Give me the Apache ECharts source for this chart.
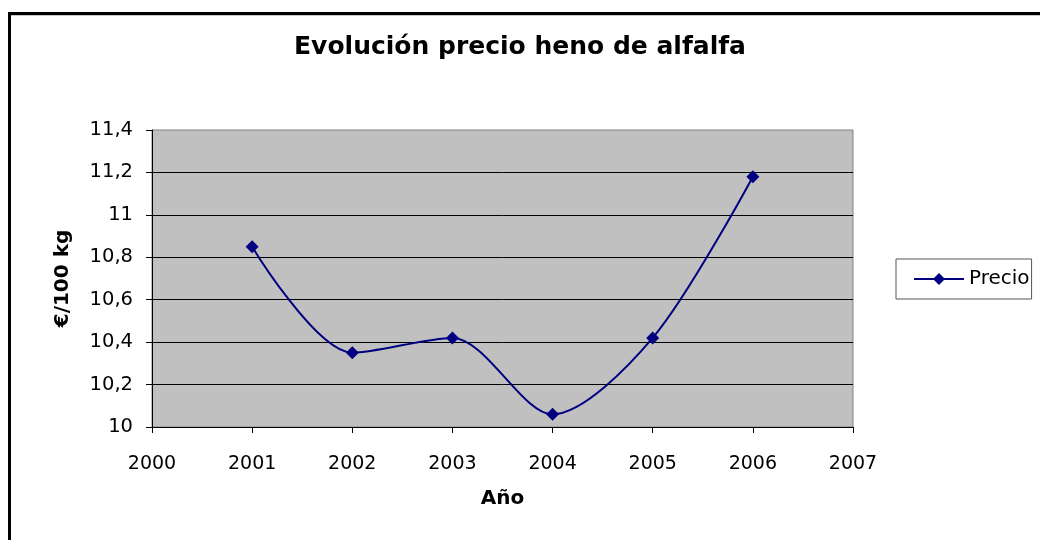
<!DOCTYPE html>
<html>
<head>
<meta charset="utf-8">
<script src="https://cdn.jsdelivr.net/npm/echarts@6/dist/echarts.min.js"></script>
<style>
  html, body { margin: 0; padding: 0; background: #fff; }
  #chart { position: absolute; left: 0; top: 0; width: 1040px; height: 540px; }
  #frame {
    position: absolute; left: 8px; top: 12px; right: 0; bottom: 0;
    border-left: 3px solid #000; border-top: 3px solid #000;
    box-shadow: inset 0 1px 0 #c8c8c8;
    pointer-events: none;
  }
</style>
</head>
<body>
<div id="chart"></div>
<div id="frame"></div>
<script>
const years = [2001, 2002, 2003, 2004, 2005, 2006];
const precio = [10.85, 10.35, 10.42, 10.06, 10.42, 11.18];
const xRange = [2000, 2007];
const yRange = [10, 11.4];
const yStep = 0.2;

const font = 'DejaVu Sans';
const chart = echarts.init(document.getElementById('chart'));

const option = {
  backgroundColor: '#fff',
  animation: false,
  title: {
    text: 'Evolución precio heno de alfalfa',
    left: 'center',
    top: 30,
    textStyle: { fontFamily: font, fontSize: 25, fontWeight: 'bold', color: '#000' }
  },
  legend: {
    left: 896,
    top: 259,
    orient: 'vertical',
    padding: [10, 2, 10, 17],
    itemWidth: 50,
    itemHeight: 15,
    itemGap: 0,
    borderColor: '#555',
    borderWidth: 1,
    textStyle: { fontFamily: font, fontSize: 20, color: '#000', padding: [0, 0, 0, 0] },
    data: ['Precio']
  },
  grid: {
    left: 152,
    right: 187,
    top: 130,
    bottom: 113,
    show: true,
    backgroundColor: '#c0c0c0',
    borderColor: '#808080',
    borderWidth: 1
  },
  xAxis: {
    type: 'value',
    min: xRange[0],
    max: xRange[1],
    interval: 1,
    name: 'Año',
    nameLocation: 'middle',
    nameGap: 62,
    nameTextStyle: { fontFamily: font, fontSize: 20, fontWeight: 'bold', color: '#000' },
    axisLine: { lineStyle: { color: '#000', width: 1 } },
    axisTick: { length: 6, lineStyle: { color: '#000' } },
    axisLabel: {
      margin: 28,
      fontFamily: font, fontSize: 19, color: '#000',
      formatter: v => String(v)
    },
    splitLine: { show: false }
  },
  yAxis: {
    type: 'value',
    min: yRange[0],
    max: yRange[1],
    interval: yStep,
    name: '€/100 kg',
    nameLocation: 'middle',
    nameGap: 79,
    nameTextStyle: { fontFamily: font, fontSize: 20, fontWeight: 'bold', color: '#000' },
    axisLine: { show: true, lineStyle: { color: '#000', width: 1 } },
    axisTick: { show: true, length: 6, lineStyle: { color: '#000' } },
    axisLabel: {
      margin: 19,
      fontFamily: font, fontSize: 19.5, color: '#000',
      formatter: v => String(+v.toFixed(1)).replace('.', ',')
    },
    splitLine: { show: true, showMaxLine: false, lineStyle: { color: '#000', width: 1 } }
  },
  series: [
    {
      name: 'Precio',
      type: 'line',
      smooth: 0.3,
      symbol: 'diamond',
      symbolSize: 13,
      lineStyle: { color: '#000080', width: 2 },
      itemStyle: { color: '#000080' },
      data: years.map((y, i) => [y, precio[i]])
    }
  ]
};

chart.setOption(option);
</script>
</body>
</html>
